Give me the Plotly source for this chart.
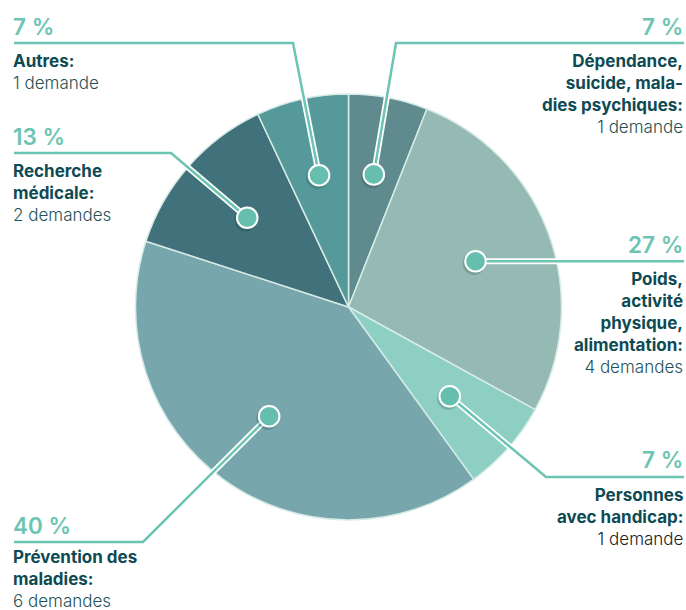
import math
import plotly.graph_objects as go

# ---------------- data ----------------
categories = [
    "Dépendance, suicide, maladies psychiques",
    "Poids, activité physique, alimentation",
    "Personnes avec handicap",
    "Prévention des maladies",
    "Recherche médicale",
    "Autres",
]
demandes = [1, 4, 1, 6, 2, 1]
slice_shares = [6, 27, 7, 40, 13, 7]          # slice sizes as drawn (%)
pct_labels = ["7 %", "27 %", "7 %", "40 %", "13 %", "7 %"]
name_lines = [
    ["Dépendance,", "suicide, mala-", "dies psychiques:"],
    ["Poids,", "activité", "physique,", "alimentation:"],
    ["Personnes", "avec handicap:"],
    ["Prévention des", "maladies:"],
    ["Recherche", "médicale:"],
    ["Autres:"],
]

# ---------------- style / layout ----------------
W, H = 686, 610
CX, CY, R = 348.5, 307.0, 213.0
ANCHOR_R = 135.0
slice_colors = ["#5f8b8f", "#94bab3", "#8dcfc3", "#78a6ad", "#41717a", "#56999b"]
MINT = "#6cc4b2"
DOT = "#66bfae"
DARK = "#0e4a53"
REG = "#1f5259"

# per label: side, line y (None -> dot y), elbow x (None -> straight), block nudge
label_layout = [
    dict(side="right", line_y=43, elbow=396, reg_color=REG, nudge=0),
    dict(side="right", line_y=None, elbow=None, reg_color=REG, nudge=0),
    dict(side="right", line_y=477, elbow=546, reg_color="#222222", nudge=0),
    dict(side="left", line_y=542, elbow=143, reg_color=REG, nudge=-2.5),
    dict(side="left", line_y=153, elbow=171, reg_color=REG, nudge=0),
    dict(side="left", line_y=43, elbow=293, reg_color=REG, nudge=0),
]
LEFT_X, RIGHT_X = 11, 685
LINE_H = 22.1


def X(px):
    return px / W


def Y(py):
    return 1 - py / H


fig = go.Figure()
fig.add_trace(go.Pie(
    labels=categories,
    values=slice_shares,
    sort=False,
    direction="clockwise",
    rotation=0,
    marker=dict(colors=slice_colors, line=dict(color="#d6ebe6", width=1.5)),
    textinfo="none",
    textposition="none",
    hoverinfo="label",
    showlegend=False,
    domain=dict(x=[X(CX - R), X(CX + R)], y=[Y(CY + R), Y(CY - R)]),
))

total = sum(slice_shares)
cum = 0.0
shapes_white, shapes_mint, shapes_dots = [], [], []
annotations = []
for i, v in enumerate(slice_shares):
    mid = (cum + v / 2) / total * 2 * math.pi
    cum += v
    dx = CX + ANCHOR_R * math.sin(mid)
    dy = CY - ANCHOR_R * math.cos(mid)
    lay = label_layout[i]
    ly = lay["line_y"] if lay["line_y"] is not None else dy
    end_x = 684 if lay["side"] == "right" else 14
    pts = [(end_x, ly)]
    if lay["elbow"] is not None:
        pts.append((lay["elbow"], ly))
    pts.append((dx, dy))
    path = "M " + " L ".join(f"{X(a):.5f},{Y(b):.5f}" for a, b in pts)
    shapes_white.append(dict(type="path", path=path, xref="paper", yref="paper",
                              line=dict(color="white", width=6), layer="above"))
    shapes_mint.append(dict(type="path", path=path, xref="paper", yref="paper",
                            line=dict(color=MINT, width=2.5), layer="above"))
    # shadow + dot
    rr = 10.3
    shapes_dots.append(dict(type="circle", xref="paper", yref="paper",
                            x0=X(dx - rr - 2.5), x1=X(dx + rr - 0.5),
                            y0=Y(dy + rr + 3.5), y1=Y(dy - rr + 0.5),
                            fillcolor="rgba(0,40,40,0.18)", line=dict(width=0), layer="above"))
    shapes_dots.append(dict(type="circle", xref="paper", yref="paper",
                            x0=X(dx - rr), x1=X(dx + rr), y0=Y(dy + rr), y1=Y(dy - rr),
                            fillcolor=DOT, line=dict(color="white", width=2), layer="above"))

    side = lay["side"]
    ax = X(RIGHT_X) if side == "right" else X(LEFT_X)
    xanchor = "right" if side == "right" else "left"
    # percentage
    annotations.append(dict(
        x=ax, y=Y(ly - 17), xref="paper", yref="paper", showarrow=False,
        xanchor=xanchor, yanchor="middle", align=side,
        text=pct_labels[i],
        font=dict(family="Inter", size=22.5, color=MINT, weight=600),
    ))
    # name + count block
    n = demandes[i]
    count_txt = f"{n} demande" + ("s" if n > 1 else "")
    lines = [f"<b>{t}</b>" for t in name_lines[i]]
    lines.append(f"<span style='color:{lay['reg_color']};font-weight:350'>{count_txt}</span>")
    nl = len(lines)
    first_c = ly + 17.5 + lay["nudge"]
    block_c = first_c + (nl - 1) * LINE_H / 2
    annotations.append(dict(
        x=ax, y=Y(block_c), xref="paper", yref="paper", showarrow=False,
        xanchor=xanchor, yanchor="middle", align=side,
        text="<br>".join(lines),
        font=dict(family="Inter", size=17, color=DARK),
    ))

fig.update_layout(
    width=W, height=H,
    margin=dict(l=0, r=0, t=0, b=0),
    paper_bgcolor="white", plot_bgcolor="white",
    shapes=shapes_white + shapes_mint + shapes_dots,
    annotations=annotations,
    showlegend=False,
)

fig.write_html(
    "out.html",
    config={"displayModeBar": False},
    post_script="document.body.style.margin='0';document.body.style.padding='0';"
                "document.body.style.overflow='hidden';",
)
